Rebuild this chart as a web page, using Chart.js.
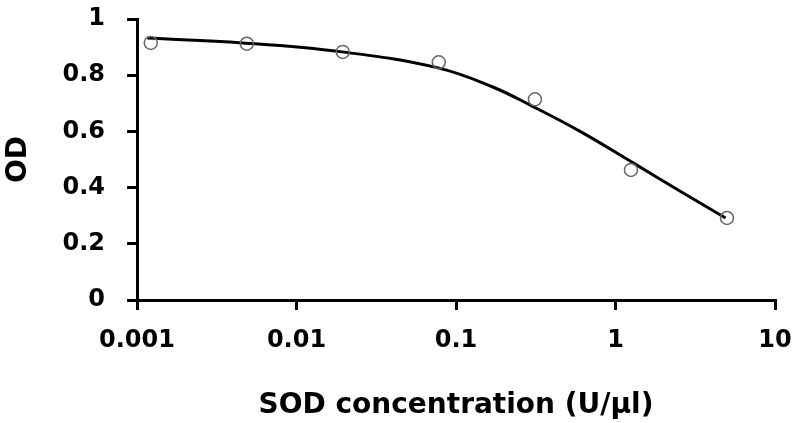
<!DOCTYPE html>
<html>
<head>
<meta charset="utf-8">
<script src="https://cdn.jsdelivr.net/npm/chart.js@4/dist/chart.umd.min.js"></script>
<style>
  html, body { margin: 0; padding: 0; background: #fff; }
  #wrap { width: 799px; height: 423px; }
</style>
</head>
<body>
<div id="wrap"><canvas id="od"></canvas></div>
<script>
// measured points (SOD U/ul vs OD)
const sodConc = [0.00122, 0.00488, 0.0195, 0.078, 0.3125, 1.25, 5];
const odValues = [0.915, 0.912, 0.883, 0.846, 0.714, 0.463, 0.292];

// fitted curve
const fitConc = [0.00116, 0.0046, 0.0193, 0.077, 0.17, 0.30, 0.60, 1.29, 2.53, 4.9];
const fitOd = [0.932, 0.915, 0.883, 0.826, 0.758, 0.690, 0.600, 0.488, 0.388, 0.292];

const xTicks = [0.001, 0.01, 0.1, 1, 10];
const yTicks = [0, 0.2, 0.4, 0.6, 0.8, 1];

const fontFam = "'DejaVu Sans', sans-serif";

const ctx = document.getElementById('od');
new Chart(ctx, {
    type: 'scatter',
    data: {
        datasets: [{
            label: 'fit',
            data: fitConc.map((x, i) => ({ x: x, y: fitOd[i] })),
            showLine: true,
            borderColor: '#000',
            borderWidth: 3,
            pointRadius: 0,
            tension: 0.4,
            order: 2
        }, {
            label: 'OD',
            data: sodConc.map((x, i) => ({ x: x, y: odValues[i] })),
            showLine: false,
            pointRadius: 6.5,
            pointBorderWidth: 1.5,
            pointBorderColor: '#666',
            pointBackgroundColor: 'rgba(0,0,0,0)',
            order: 1
        }]
    },
    options: {
        responsive: true,
        maintainAspectRatio: false,
        animation: false,
        layout: { padding: { top: 19, right: 24, left: 0, bottom: 0 } },
        plugins: {
            legend: { display: false },
            tooltip: { enabled: false }
        },
        scales: {
            x: {
                type: 'logarithmic',
                min: 0.001,
                max: 10,
                afterBuildTicks: (s) => { s.ticks = xTicks.map(v => ({ value: v })); },
                afterFit: (s) => { s.height = 123; s.paddingLeft = 0; s.paddingRight = 0; },
                grid: { drawOnChartArea: false, tickLength: 10, color: '#000', lineWidth: 3 },
                border: { color: '#000', width: 3 },
                ticks: {
                    color: '#000',
                    padding: 16,
                    maxRotation: 0,
                    font: { family: fontFam, size: 24, weight: 'bold' },
                    callback: (v) => String(v)
                },
                title: {
                    display: true,
                    text: 'SOD concentration (U/µl)',
                    color: '#000',
                    padding: { top: 14, bottom: 0 },
                    font: { family: fontFam, size: 28, weight: 'bold' }
                }
            },
            y: {
                min: 0,
                max: 1,
                afterBuildTicks: (s) => { s.ticks = yTicks.map(v => ({ value: v })); },
                afterFit: (s) => { s.width = 137; s.paddingTop = 0; s.paddingBottom = 0; },
                grid: { drawOnChartArea: false, tickLength: 10, color: '#000', lineWidth: 3 },
                border: { color: '#000', width: 3 },
                ticks: {
                    color: '#000',
                    padding: 22,
                    font: { family: fontFam, size: 24, weight: 'bold' },
                    callback: (v) => String(v)
                },
                title: {
                    display: true,
                    text: 'OD',
                    color: '#000',
                    padding: { top: 2, bottom: 0 },
                    font: { family: fontFam, size: 28, weight: 'bold' }
                }
            }
        }
    }
});
</script>
</body>
</html>
